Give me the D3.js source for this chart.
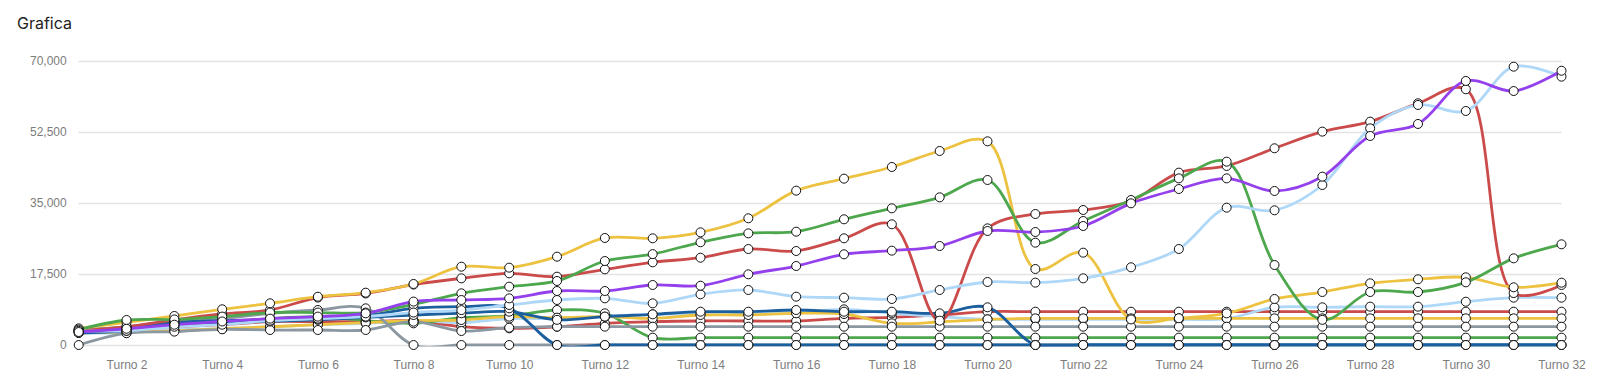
<!DOCTYPE html>
<html>
<head>
<meta charset="utf-8">
<script src="https://cdn.jsdelivr.net/npm/d3@7"></script>
<style>
  body { margin: 0; background: #fff; }
  .title { font-family: "Inter", "Open Sans", sans-serif; font-size: 16px; fill: #222; }
  .tick-label { font-family: "Liberation Sans", Arial, sans-serif; font-size: 12px; fill: #7d7d7d; }
</style>
</head>
<body>
<div id="chart"></div>
<script>
// turnos y ticks
var turnos = d3.range(1, 33).map(function(n) { return "Turno " + n; });
var xTickLabels = turnos.filter(function(d, i) { return (i + 1) % 2 === 0; });
var yTicks = [0, 17500, 35000, 52500, 70000];

// series, one value per turno
var amarillo1 = [4100, 5600, 7150, 8800, 10270, 11900, 12900, 15040, 19300, 19060, 21770, 26380, 26300, 27770, 31230, 38040, 41000, 43880, 47820, 50200, 18730, 22760, 6300, 6600, 7800, 11340, 13060, 15200, 16190, 16680, 14220, 15360];
var rojo1 = [3500, 4500, 6200, 7640, 8630, 11700, 12700, 14900, 16430, 17670, 16840, 18650, 20380, 21520, 23660, 23170, 26300, 29750, 6000, 28750, 32290, 33280, 35500, 42480, 44130, 48490, 52590, 55050, 59580, 63030, 12800, 14790];
var verde1 = [3800, 6160, 6300, 7000, 8000, 8000, 8000, 10000, 12740, 14380, 15780, 20700, 22400, 25320, 27520, 27930, 30980, 33690, 36400, 40670, 25220, 30570, 35740, 41070, 45190, 19720, 6200, 13060, 13060, 15450, 21360, 24820];
var morado1 = [3200, 4000, 5000, 5800, 6500, 7000, 7800, 10700, 11090, 11500, 13310, 13310, 14790, 14620, 17420, 19470, 22350, 23250, 24400, 28100, 27850, 29330, 34920, 38450, 41070, 37960, 41490, 51520, 54480, 65080, 62600, 67600];
var celeste1 = [3500, 3500, 4500, 5000, 6000, 6500, 7000, 8000, 8600, 9860, 11090, 11500, 10270, 12490, 13560, 11910, 11670, 11340, 13560, 15530, 15370, 16430, 19150, 23660, 33850, 33200, 39440, 53400, 59160, 57680, 68600, 66140];
var azul1 = [3500, 4000, 5500, 6000, 6200, 6500, 7200, 9040, 9450, 9040, 0, 0, 0, 0, 0, 0, 0, 0, 0, 0, 0, 0, 0, 0, 0, 0, 0, 0, 0, 0, 0, 0];
var azul2 = [3000, 3500, 5200, 5500, 5800, 6200, 6800, 7400, 7810, 8210, 6200, 7000, 7560, 8210, 8210, 8630, 8210, 8210, 7810, 9290, 0, 0, 0, 0, 0, 0, 0, 0, 0, 0, 0, 0];
var gris1 = [3600, 4500, 5800, 6500, 7810, 8630, 9040, 0, 0, 0, 0, 0, 0, 0, 0, 0, 0, 0, 0, 0, 0, 0, 0, 0, 0, 0, 0, 0, 0, 0, 0, 0];
var gris2 = [0, 2900, 3300, 3870, 3700, 3700, 3700, 5750, 3450, 4270, 4520, 4520, 4520, 4520, 4520, 4520, 4520, 4520, 4520, 4520, 4520, 4520, 4520, 4520, 4520, 4520, 4520, 4520, 4520, 4520, 4520, 4520];
var verde2 = [3800, 4200, 5000, 5500, 6500, 7000, 6000, 5340, 6740, 7150, 8630, 7810, 1810, 1810, 1810, 1810, 1810, 1810, 1810, 1810, 1810, 1810, 1810, 1810, 1810, 1810, 1810, 1810, 1810, 1810, 1810, 1810];
var amarillo2 = [3000, 3200, 3500, 4000, 4500, 5000, 5500, 6000, 6160, 6980, 6740, 6980, 6570, 7400, 7400, 7810, 7640, 5340, 5670, 6330, 6570, 6570, 6570, 6570, 6570, 6570, 6570, 6570, 6570, 6570, 6570, 6570];
var rojo2 = [3300, 3800, 4500, 5000, 5750, 5750, 5750, 6000, 4520, 4110, 4500, 5340, 5750, 5920, 5920, 5920, 6570, 6820, 7400, 8210, 8210, 8210, 8210, 8210, 8210, 8210, 8210, 8210, 8210, 8210, 8210, 8210];
var celeste2 = [3000, 3000, 3800, 4000, 4500, 5000, 5340, 6000, 5500, 6500, 6500, 7000, 7560, 7560, 7560, 8000, 8790, 7800, 7000, 6330, 6330, 6330, 6330, 6330, 6500, 9290, 9290, 9450, 9450, 10670, 11660, 11660];

var series = [
  {name: "rojo2", color: "#cb4b4b", values: rojo2},
  {name: "celeste2", color: "#afd8f8", values: celeste2},
  {name: "verde2", color: "#4da74d", values: verde2},
  {name: "amarillo2", color: "#edc240", values: amarillo2},
  {name: "gris2", color: "#8c98a1", values: gris2},
  {name: "gris1", color: "#8c98a1", values: gris1},
  {name: "azul2", color: "#1c5f9f", values: azul2},
  {name: "azul1", color: "#1c5f9f", values: azul1},
  {name: "rojo1", color: "#cb4b4b", values: rojo1},
  {name: "amarillo1", color: "#edc240", values: amarillo1},
  {name: "verde1", color: "#4da74d", values: verde1},
  {name: "celeste1", color: "#afd8f8", values: celeste1},
  {name: "morado1", color: "#9440ed", values: morado1}
];

function drawChart(element) {
  const widthSvg = 1602;
  const heightSvg = 386;
  const margin = {top: 61, right: 40.5, bottom: 41, left: 78.7};

  const svg = d3.select(element).append("svg")
    .attr("width", widthSvg)
    .attr("height", heightSvg);

  svg.append("text")
    .attr("class", "title")
    .attr("x", 17)
    .attr("y", 29)
    .text("Grafica");

  var x = d3.scalePoint().domain(turnos).range([margin.left, widthSvg - margin.right]);
  var y = d3.scaleLinear().domain([0, 70000]).range([heightSvg - margin.bottom, margin.top]);

  // area de dibujo recortada (las curvas no bajan de 0)
  svg.append("clipPath")
    .attr("id", "plot-clip")
    .append("rect")
    .attr("x", 0)
    .attr("y", 0)
    .attr("width", widthSvg)
    .attr("height", y(0) + 1.5);

  // grid + y labels
  var yAxis = svg.append("g")
    .attr("transform", "translate(" + margin.left + ",0)")
    .call(d3.axisLeft(y).tickValues(yTicks).tickFormat(d3.format(",")).tickSize(-(x.range()[1] - x.range()[0])).tickPadding(12));
  yAxis.select(".domain").remove();
  yAxis.selectAll(".tick line").attr("stroke", "#e3e3e3").attr("stroke-width", 1.6);
  yAxis.selectAll(".tick text").attr("class", "tick-label").attr("font-family", null).attr("font-size", null).attr("fill", null);

  // x labels
  var xAxis = svg.append("g")
    .attr("transform", "translate(0," + (heightSvg - margin.bottom) + ")")
    .call(d3.axisBottom(x).tickValues(xTickLabels).tickSize(0).tickPadding(15));
  xAxis.select(".domain").remove();
  xAxis.selectAll(".tick text").attr("class", "tick-label").attr("font-family", null).attr("font-size", null).attr("fill", null);

  var line = d3.line()
    .x(function(d, i) { return x(turnos[i]); })
    .y(function(d) { return y(d); })
    .curve(d3.curveCatmullRom.alpha(0.5));

  svg.append("g")
    .attr("clip-path", "url(#plot-clip)")
    .selectAll("path")
    .data(series)
    .enter().append("path")
    .attr("fill", "none")
    .attr("stroke", function(s) { return s.color; })
    .attr("stroke-width", 2.8)
    .attr("stroke-linejoin", "round")
    .attr("d", function(s) { return line(s.values); });

  var marks = svg.append("g").selectAll("g")
    .data(series)
    .enter().append("g");

  marks.selectAll("circle")
    .data(function(s) { return s.values; })
    .enter().append("circle")
    .attr("cx", function(d, i) { return x(turnos[i]); })
    .attr("cy", function(d) { return y(d); })
    .attr("r", 4.5)
    .attr("fill", "#fff")
    .attr("stroke", "#111")
    .attr("stroke-width", 1);
}

drawChart("#chart");
</script>
</body>
</html>
